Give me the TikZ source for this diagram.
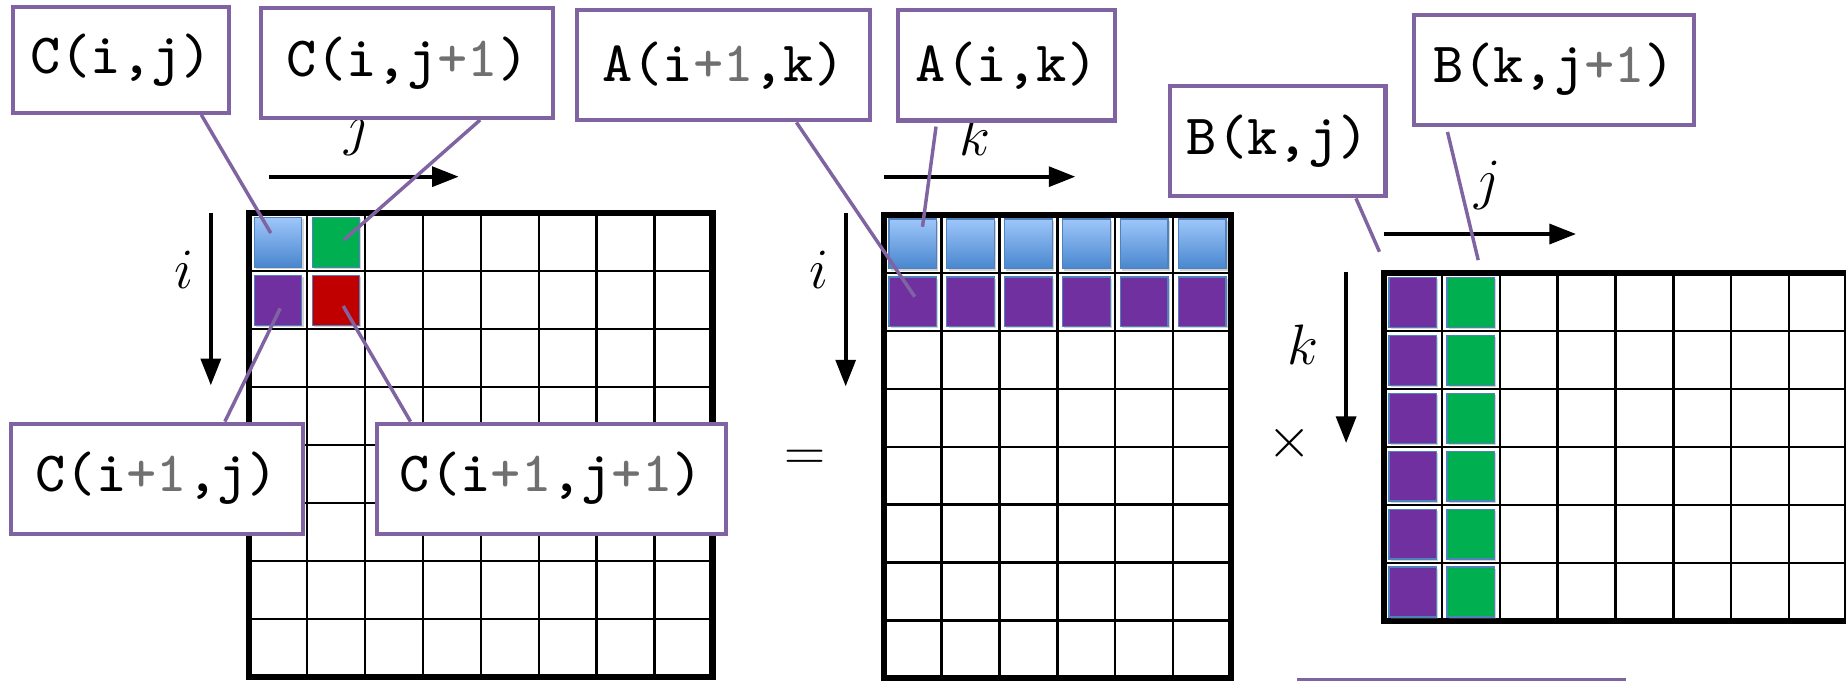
\documentclass[tikz,border=0pt]{standalone}
\usepackage{fix-cm}
\usepackage{fontspec}
\usepackage{tikz}
\usetikzlibrary{arrows.meta, shadows}

\newfontfamily\labelmono{lmmono8-regular.otf}

\definecolor{calloutpurple}{RGB}{128,100,162}
\definecolor{numgray}{RGB}{112,112,112}
\definecolor{cellblueT}{RGB}{158,198,250}
\definecolor{cellblueB}{RGB}{72,134,206}
\definecolor{celledge}{RGB}{79,129,189}
\definecolor{cellgreen}{RGB}{0,176,80}
\definecolor{cellpurple}{RGB}{112,48,160}
\definecolor{cellred}{RGB}{192,0,0}

\newcommand{\plusone}{\textcolor{numgray}{+1}}

\begin{document}
\begin{tikzpicture}[
    % Define styles
    labelbox/.style={rectangle, draw=calloutpurple, line width=2pt, fill=white, minimum height=1.9cm, inner sep=0pt, align=center, font=\fontsize{28}{34}\selectfont\labelmono},
    callout/.style={draw=calloutpurple, line width=1.7pt},
    gridline/.style={draw=black, line width=1.1pt},
    matrixframe/.style={draw=black, line width=3pt},
    cell/.style={rectangle, draw=celledge, line width=0.6pt, minimum width=0.82cm, minimum height=0.86cm, inner sep=0pt, drop shadow={shadow xshift=0.03cm, shadow yshift=-0.03cm, opacity=0.35}},
    bluecell/.style={cell, top color=cellblueT, bottom color=cellblueB},
    greencell/.style={cell, fill=cellgreen},
    purplecell/.style={cell, fill=cellpurple},
    redcell/.style={cell, fill=cellred},
    axisarrow/.style={-{Triangle[length=0.46cm, width=0.34cm]}, line width=2pt},
    axislabel/.style={anchor=base, inner sep=0pt, font=\fontsize{28}{34}\selectfont}
]
    \useasboundingbox (0,0) rectangle (31.87,-11.74);
    \clip (0,0) rectangle (31.87,-11.74);

    % 1. Result matrix C
    \begin{scope}[shift={(4.30,-3.683)}]
        \draw[gridline] (0,0) grid (8,-8);
        \draw[matrixframe] (0,0) rectangle (8,-8);
        \node[bluecell]   (c11) at (0.5,-0.5) {};
        \node[greencell]  (c12) at (1.5,-0.5) {};
        \node[purplecell] (c21) at (0.5,-1.5) {};
        \node[redcell]    (c22) at (1.5,-1.5) {};
        \coordinate (cj_from) at (0.34,0.633);
        \coordinate (cj_to) at (3.62,0.633);
        \coordinate (ci_from) at (-0.66,0);
        \coordinate (ci_to) at (-0.66,-2.97);
        \draw[axisarrow] (cj_from) -- (cj_to);
        \draw[axisarrow] (ci_from) -- (ci_to);
        \node[axislabel] (cj_lbl) at (1.88,1.197) {$j$};
        \node[axislabel] (ci_lbl) at (-1.13,-1.292) {$i$};
    \end{scope}

    % 2. Matrix A
    \begin{scope}[shift={(15.256,-3.711)}]
        \draw[gridline] (0,0) grid (6,-8);
        \draw[matrixframe] (0,0) rectangle (6,-8);
        \foreach \k in {1,...,6} {
            \node[bluecell]   (a1\k) at (\k-0.5,-0.5) {};
            \node[purplecell] (a2\k) at (\k-0.5,-1.5) {};
        }
        \coordinate (ak_from) at (0,0.661);
        \coordinate (ak_to) at (3.31,0.661);
        \coordinate (ai_from) at (-0.656,0.03);
        \coordinate (ai_to) at (-0.656,-2.96);
        \draw[axisarrow] (ak_from) -- (ak_to);
        \draw[axisarrow] (ai_from) -- (ai_to);
        \node[axislabel] (ak_lbl) at (1.574,1.031) {$k$};
        \node[axislabel] (ai_lbl) at (-1.116,-1.264) {$i$};
    \end{scope}

    % 3. Matrix B
    \begin{scope}[shift={(23.89,-4.72)}]
        \draw[gridline] (0,0) grid (8,-6);
        \draw[matrixframe] (0,0) rectangle (8,-6);
        \foreach \k in {1,...,6} {
            \node[purplecell] (b\k1) at (0.5,0.5-\k) {};
            \node[greencell]  (b\k2) at (1.5,0.5-\k) {};
        }
        \coordinate (bj_from) at (0,0.68);
        \coordinate (bj_to) at (3.32,0.68);
        \coordinate (bk_from) at (-0.65,0.03);
        \coordinate (bk_to) at (-0.65,-2.93);
        \draw[axisarrow] (bj_from) -- (bj_to);
        \draw[axisarrow] (bk_from) -- (bk_to);
        \node[axislabel] (bj_lbl) at (1.79,1.30) {$j$};
        \node[axislabel] (bk_lbl) at (-1.39,-1.58) {$k$};
    \end{scope}

    % Operators
    \node[axislabel] (eq) at (13.9,-8.12) {$=$};
    \node[axislabel] (times) at (22.26,-7.90) {$\times$};

    % 4. Element labels
    \node[labelbox, minimum width=3.74cm, minimum height=1.82cm] (lbl_cij) at (2.09,-1.036) {C(i,j)};
    \node[labelbox, minimum width=5.05cm] (lbl_cij1) at (7.03,-1.085) {C(i,j\plusone)};
    \node[labelbox, minimum width=5.06cm] (lbl_ai1k) at (12.49,-1.128) {A(i\plusone,k)};
    \node[labelbox, minimum width=3.74cm] (lbl_aik) at (17.38,-1.13) {A(i,k)};
    \node[labelbox, minimum width=3.72cm] (lbl_bkj) at (22.06,-2.44) {B(k,j)};
    \node[labelbox, minimum width=4.83cm] (lbl_bkj1) at (26.83,-1.203) {B(k,j\plusone)};
    \node[labelbox, minimum width=5.05cm] (lbl_ci1j) at (2.707,-8.264) {C(i\plusone,j)};
    \node[labelbox, minimum width=6.02cm] (lbl_ci1j1) at (9.518,-8.264) {C(i\plusone,j\plusone)};
    \node[labelbox, minimum width=5.62cm, anchor=north] (lbl_more) at (25.23,-11.70) {};

    % 5. Callout lines
    \draw[callout] ([xshift=1.385cm]lbl_cij.south) -- ([shift={(-0.125,0.159)}]c11.center);
    \draw[callout] ([xshift=1.26cm]lbl_cij1.south) -- ([shift={(0.135,0.037)}]c12.center);
    \draw[callout] ([xshift=1.175cm]lbl_ci1j.north) -- ([shift={(0.037,-0.142)}]c21.center);
    \draw[callout] ([xshift=-2.43cm]lbl_ci1j1.north) -- ([shift={(0.125,-0.10)}]c22.center);
    \draw[callout] ([xshift=1.26cm]lbl_ai1k.south) -- ([shift={(0.036,0.089)}]a21.center);
    \draw[callout] ([xshift=-1.22cm, yshift=-0.07cm]lbl_aik.south) -- ([shift={(0.17,0.296)}]a11.center);
    \draw[callout] ([xshift=1.35cm]lbl_bkj.south) -- ([shift={(-0.575,0.874)}]b11.center);
    \draw[callout] ([xshift=-1.84cm, yshift=-0.09cm]lbl_bkj1.south) -- ([shift={(0.13,0.73)}]b12.center);

\end{tikzpicture}
\end{document}
